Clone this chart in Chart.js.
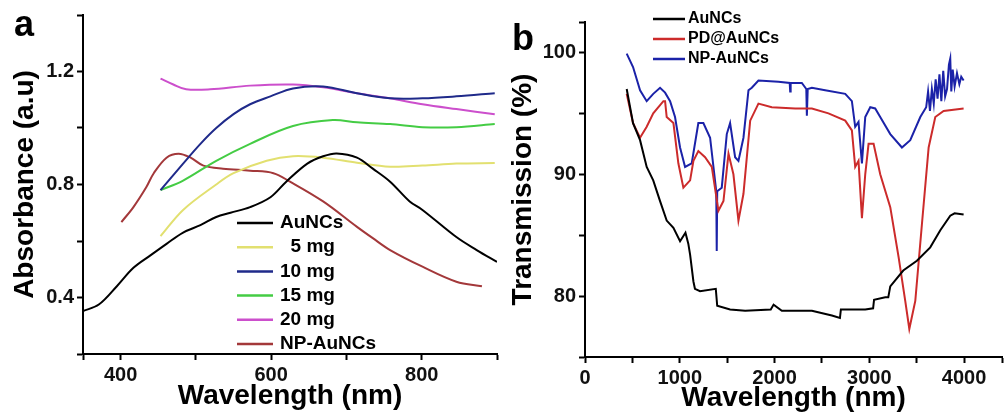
<!DOCTYPE html>
<html>
<head>
<meta charset="utf-8">
<script src="https://cdn.jsdelivr.net/npm/chart.js@4/dist/chart.umd.min.js"></script>
<style>
    body { margin: 0; background: #fff; }
    #wrap { position: relative; width: 1005px; height: 417px; }
    #absChart { position: absolute; left: 0; top: 0; }
    #irChart { position: absolute; left: 500px; top: 0; }
</style>
</head>
<body>
<div id="wrap">
    <canvas id="absChart" width="500" height="417"></canvas>
    <canvas id="irChart" width="505" height="417"></canvas>
</div>
<script>
// ---- panel a : absorbance vs wavelength ----
const absYTicks = [0.2, 0.4, 0.6, 0.8, 1.0, 1.2, 1.4];
const absYLabels = ['', '0.4', '', '0.8', '', '1.2', ''];
const absXTicks = [350, 400, 500, 600, 700, 800, 900];
const absXLabels = ['', '400', '', '600', '', '800', ''];

const auncsX = [350, 371, 395, 417, 440, 461, 483, 506, 527, 546, 572, 599, 620, 648, 669, 687, 714, 735, 758, 784, 801, 846, 873, 900];
const auncsY = [0.352, 0.375, 0.44, 0.505, 0.55, 0.59, 0.63, 0.656, 0.685, 0.70, 0.72, 0.755, 0.81, 0.874, 0.90, 0.91, 0.895, 0.856, 0.81, 0.74, 0.71, 0.614, 0.568, 0.526];

const mg5X = [453, 483, 527, 550, 594, 629, 669, 714, 758, 801, 846, 897];
const mg5Y = [0.617, 0.71, 0.80, 0.84, 0.884, 0.90, 0.895, 0.877, 0.863, 0.867, 0.874, 0.876];

const mg10X = [453, 483, 506, 527, 550, 572, 599, 629, 669, 714, 758, 801, 846, 897];
const mg10Y = [0.78, 0.874, 0.944, 1.0, 1.049, 1.084, 1.112, 1.14, 1.147, 1.123, 1.105, 1.105, 1.112, 1.123];

const mg15X = [453, 483, 527, 572, 629, 682, 714, 758, 801, 846, 897];
const mg15Y = [0.78, 0.814, 0.884, 0.944, 1.007, 1.028, 1.02, 1.014, 1.003, 1.003, 1.014];

const mg20X = [453, 470, 487, 519, 572, 629, 669, 714, 758, 801, 846, 897];
const mg20Y = [1.175, 1.154, 1.137, 1.137, 1.15, 1.154, 1.144, 1.123, 1.105, 1.084, 1.067, 1.049];

const npX = [401, 417, 434, 444, 461, 477, 493, 510, 536, 572, 603, 625, 669, 714, 735, 758, 801, 846, 880];
const npY = [0.667, 0.72, 0.79, 0.84, 0.895, 0.909, 0.895, 0.867, 0.856, 0.849, 0.84, 0.81, 0.74, 0.65, 0.61, 0.568, 0.509, 0.456, 0.44];

// ---- panel b : transmission vs wavelength ----
const irYTicks = [75, 80, 85, 90, 95, 100, 102.5];
const irYLabels = ['', '80', '', '90', '', '100', ''];
const irXTicks = [0, 500, 1000, 1500, 2000, 2500, 3000, 3500, 4000, 4400];
const irXLabels = ['0', '', '1000', '', '2000', '', '3000', '', '4000', ''];

const irAuX = [440, 507, 581, 651, 720, 792, 862, 933, 1003, 1060, 1090, 1109, 1144, 1160, 1214, 1380, 1395, 1531, 1690, 1960, 1990, 2077, 2394, 2605, 2690, 2700, 2957, 3040, 3050, 3168, 3200, 3221, 3358, 3502, 3643, 3749, 3854, 3900, 3995];
const irAuY = [97.0, 94.2, 92.8, 90.6, 89.5, 87.8, 86.2, 85.6, 84.5, 85.2, 84.3, 83.4, 81.2, 80.6, 80.4, 80.6, 79.2, 78.9, 78.8, 78.9, 79.3, 78.8, 78.8, 78.4, 78.2, 78.9, 78.9, 79.0, 79.7, 79.9, 79.9, 80.8, 82.1, 82.9, 84.0, 85.4, 86.6, 86.8, 86.7];

const irPdX = [440, 507, 581, 651, 720, 827, 845, 862, 933, 985, 1038, 1109, 1144, 1196, 1267, 1338, 1408, 1461, 1514, 1566, 1619, 1672, 1743, 1830, 1971, 2218, 2394, 2569, 2746, 2816, 2851, 2886, 2922, 2957, 2992, 3045, 3115, 3221, 3309, 3379, 3422, 3485, 3555, 3626, 3696, 3784, 3995];
const irPdY = [96.6, 94.2, 93.0, 93.9, 95.0, 96.0, 96.0, 94.7, 94.2, 90.9, 88.9, 89.5, 91.1, 91.9, 91.4, 90.6, 87.0, 87.8, 91.7, 90.0, 86.2, 88.4, 94.4, 95.8, 95.5, 95.4, 95.4, 95.0, 94.4, 93.6, 90.6, 91.1, 86.4, 90.0, 92.5, 92.5, 90.0, 87.3, 83.2, 79.6, 77.3, 79.6, 85.9, 92.2, 94.7, 95.2, 95.4];

const irNpX = [440, 507, 581, 651, 720, 792, 845, 898, 950, 1003, 1056, 1126, 1196, 1249, 1320, 1385, 1390, 1395, 1443, 1496, 1531, 1584, 1619, 1672, 1725, 1760, 1830, 2041, 2160, 2165, 2170, 2288, 2335, 2341, 2350, 2394, 2534, 2746, 2816, 2851, 2886, 2922, 2957, 3010, 3062, 3115, 3221, 3344, 3432, 3538, 3600, 3620, 3640, 3660, 3680, 3700, 3720, 3740, 3760, 3780, 3800, 3820, 3840, 3854, 3865, 3880, 3900, 3925, 3950, 3970, 3995];
const irNpY = [99.9, 98.8, 96.9, 96.0, 96.6, 97.1, 96.7, 96.0, 94.7, 92.2, 90.6, 90.9, 94.2, 94.2, 93.0, 88.6, 83.7, 88.6, 88.9, 93.3, 94.2, 91.4, 91.1, 93.0, 96.9, 97.1, 97.7, 97.6, 97.5, 96.8, 97.5, 97.5, 97.0, 94.8, 97.0, 97.1, 96.9, 96.6, 96.0, 93.9, 94.3, 90.9, 94.7, 95.5, 95.4, 94.7, 93.3, 92.2, 92.8, 94.7, 95.5, 96.8, 95.2, 97.0, 95.8, 97.8, 96.2, 98.2, 96.0, 98.5, 96.4, 97.0, 99.0, 99.5, 96.8, 98.6, 97.2, 98.3, 97.4, 98.0, 97.7];

const FONT = '"Liberation Sans", Arial, sans-serif';
Chart.defaults.font.family = FONT;
Chart.defaults.color = '#000';

const toPoints = (xs, ys) => xs.map((x, i) => ({ x: x, y: ys[i] }));

const series = (label, xs, ys, color, tension) => ({
    label: label,
    data: toPoints(xs, ys),
    borderColor: color,
    backgroundColor: color,
    borderWidth: 2,
    pointRadius: 0,
    tension: tension,
    fill: false
});

const axis = (min, max, ticks, labels, title, titlePad, fit) => ({
    type: 'linear',
    min: min,
    max: max,
    afterBuildTicks: (scale) => { scale.ticks = ticks.map(v => ({ value: v })); },
    afterFit: fit,
    ticks: {
        callback: (value, index) => labels[index],
        color: '#111',
        font: { size: 20, weight: 'bold' },
        padding: 3,
        autoSkip: false,
        maxRotation: 0
    },
    grid: { drawOnChartArea: false, color: '#000', tickColor: '#000', tickLength: 6, tickWidth: 2 },
    border: { display: true, color: '#000', width: 2 },
    title: { display: true, text: title, color: '#000', font: { size: 28, weight: 'bold' }, padding: titlePad }
});

// legend drawn inside the plot, plus the panel letter
const inlineLegend = {
    id: 'inlineLegend',
    afterDraw(chart, args, o) {
        const ctx = chart.ctx;
        ctx.save();
        ctx.font = `bold ${o.fontSize}px ${FONT}`;
        ctx.textBaseline = 'middle';
        ctx.fillStyle = '#000';
        chart.data.datasets.forEach((ds, i) => {
            let y = o.y + i * o.rowGap;
            ctx.strokeStyle = ds.borderColor;
            ctx.lineWidth = 2.5;
            ctx.beginPath();
            ctx.moveTo(o.x, y);
            ctx.lineTo(o.x + o.lineLen, y);
            ctx.stroke();
            ctx.fillText(ds.label, o.x + o.lineLen + o.gap, y);
        });
        ctx.font = `bold 36px ${FONT}`;
        ctx.textBaseline = 'alphabetic';
        ctx.fillText(o.panel, o.panelX, o.panelY);
        ctx.restore();
    }
};

new Chart(document.getElementById('absChart'), {
    type: 'line',
    data: {
        datasets: [
            series('AuNCs', auncsX, auncsY, '#000000', 0.35),
            series('  5 mg', mg5X, mg5Y, '#e2e070', 0.35),
            series('10 mg', mg10X, mg10Y, '#1f2a8a', 0.35),
            series('15 mg', mg15X, mg15Y, '#44cc44', 0.35),
            series('20 mg', mg20X, mg20Y, '#cc4fcc', 0.35),
            series('NP-AuNCs', npX, npY, '#a3383a', 0.35)
        ]
    },
    plugins: [inlineLegend],
    options: {
        responsive: false,
        devicePixelRatio: 1,
        animation: false,
        layout: { padding: { top: 14, right: 3, left: 0, bottom: 0 } },
        scales: {
            x: axis(350, 900, absXTicks, absXLabels, 'Wavelength (nm)', { top: 0, bottom: 4 }, (s) => { s.height = 63; }),
            y: axis(0.2, 1.4, absYTicks, absYLabels, 'Absorbance (a.u)', { top: 8, bottom: 0 }, (s) => { s.width = 83; })
        },
        plugins: {
            legend: { display: false },
            tooltip: { enabled: false },
            inlineLegend: { x: 237, y: 223, rowGap: 24.2, lineLen: 36, gap: 7, fontSize: 19, panel: 'a', panelX: 14, panelY: 36 }
        }
    }
});

new Chart(document.getElementById('irChart'), {
    type: 'line',
    data: {
        datasets: [
            series('AuNCs', irAuX, irAuY, '#000000', 0),
            series('PD@AuNCs', irPdX, irPdY, '#cc2b2b', 0),
            series('NP-AuNCs', irNpX, irNpY, '#1b22a8', 0)
        ]
    },
    plugins: [inlineLegend],
    options: {
        responsive: false,
        devicePixelRatio: 1,
        animation: false,
        layout: { padding: { top: 22, right: 2, left: 0, bottom: 0 } },
        scales: {
            x: axis(0, 4400, irXTicks, irXLabels, 'Wavelength (nm)', { top: 0, bottom: 2 }, (s) => { s.height = 60; }),
            y: axis(75, 102.5, irYTicks, irYLabels, 'Transmission (%)', { top: 6, bottom: 0 }, (s) => { s.width = 85; })
        },
        plugins: {
            legend: { display: false },
            tooltip: { enabled: false },
            inlineLegend: { x: 153, y: 19, rowGap: 20, lineLen: 32, gap: 3, fontSize: 16, panel: 'b', panelX: 12, panelY: 50 }
        }
    }
});
</script>
</body>
</html>
